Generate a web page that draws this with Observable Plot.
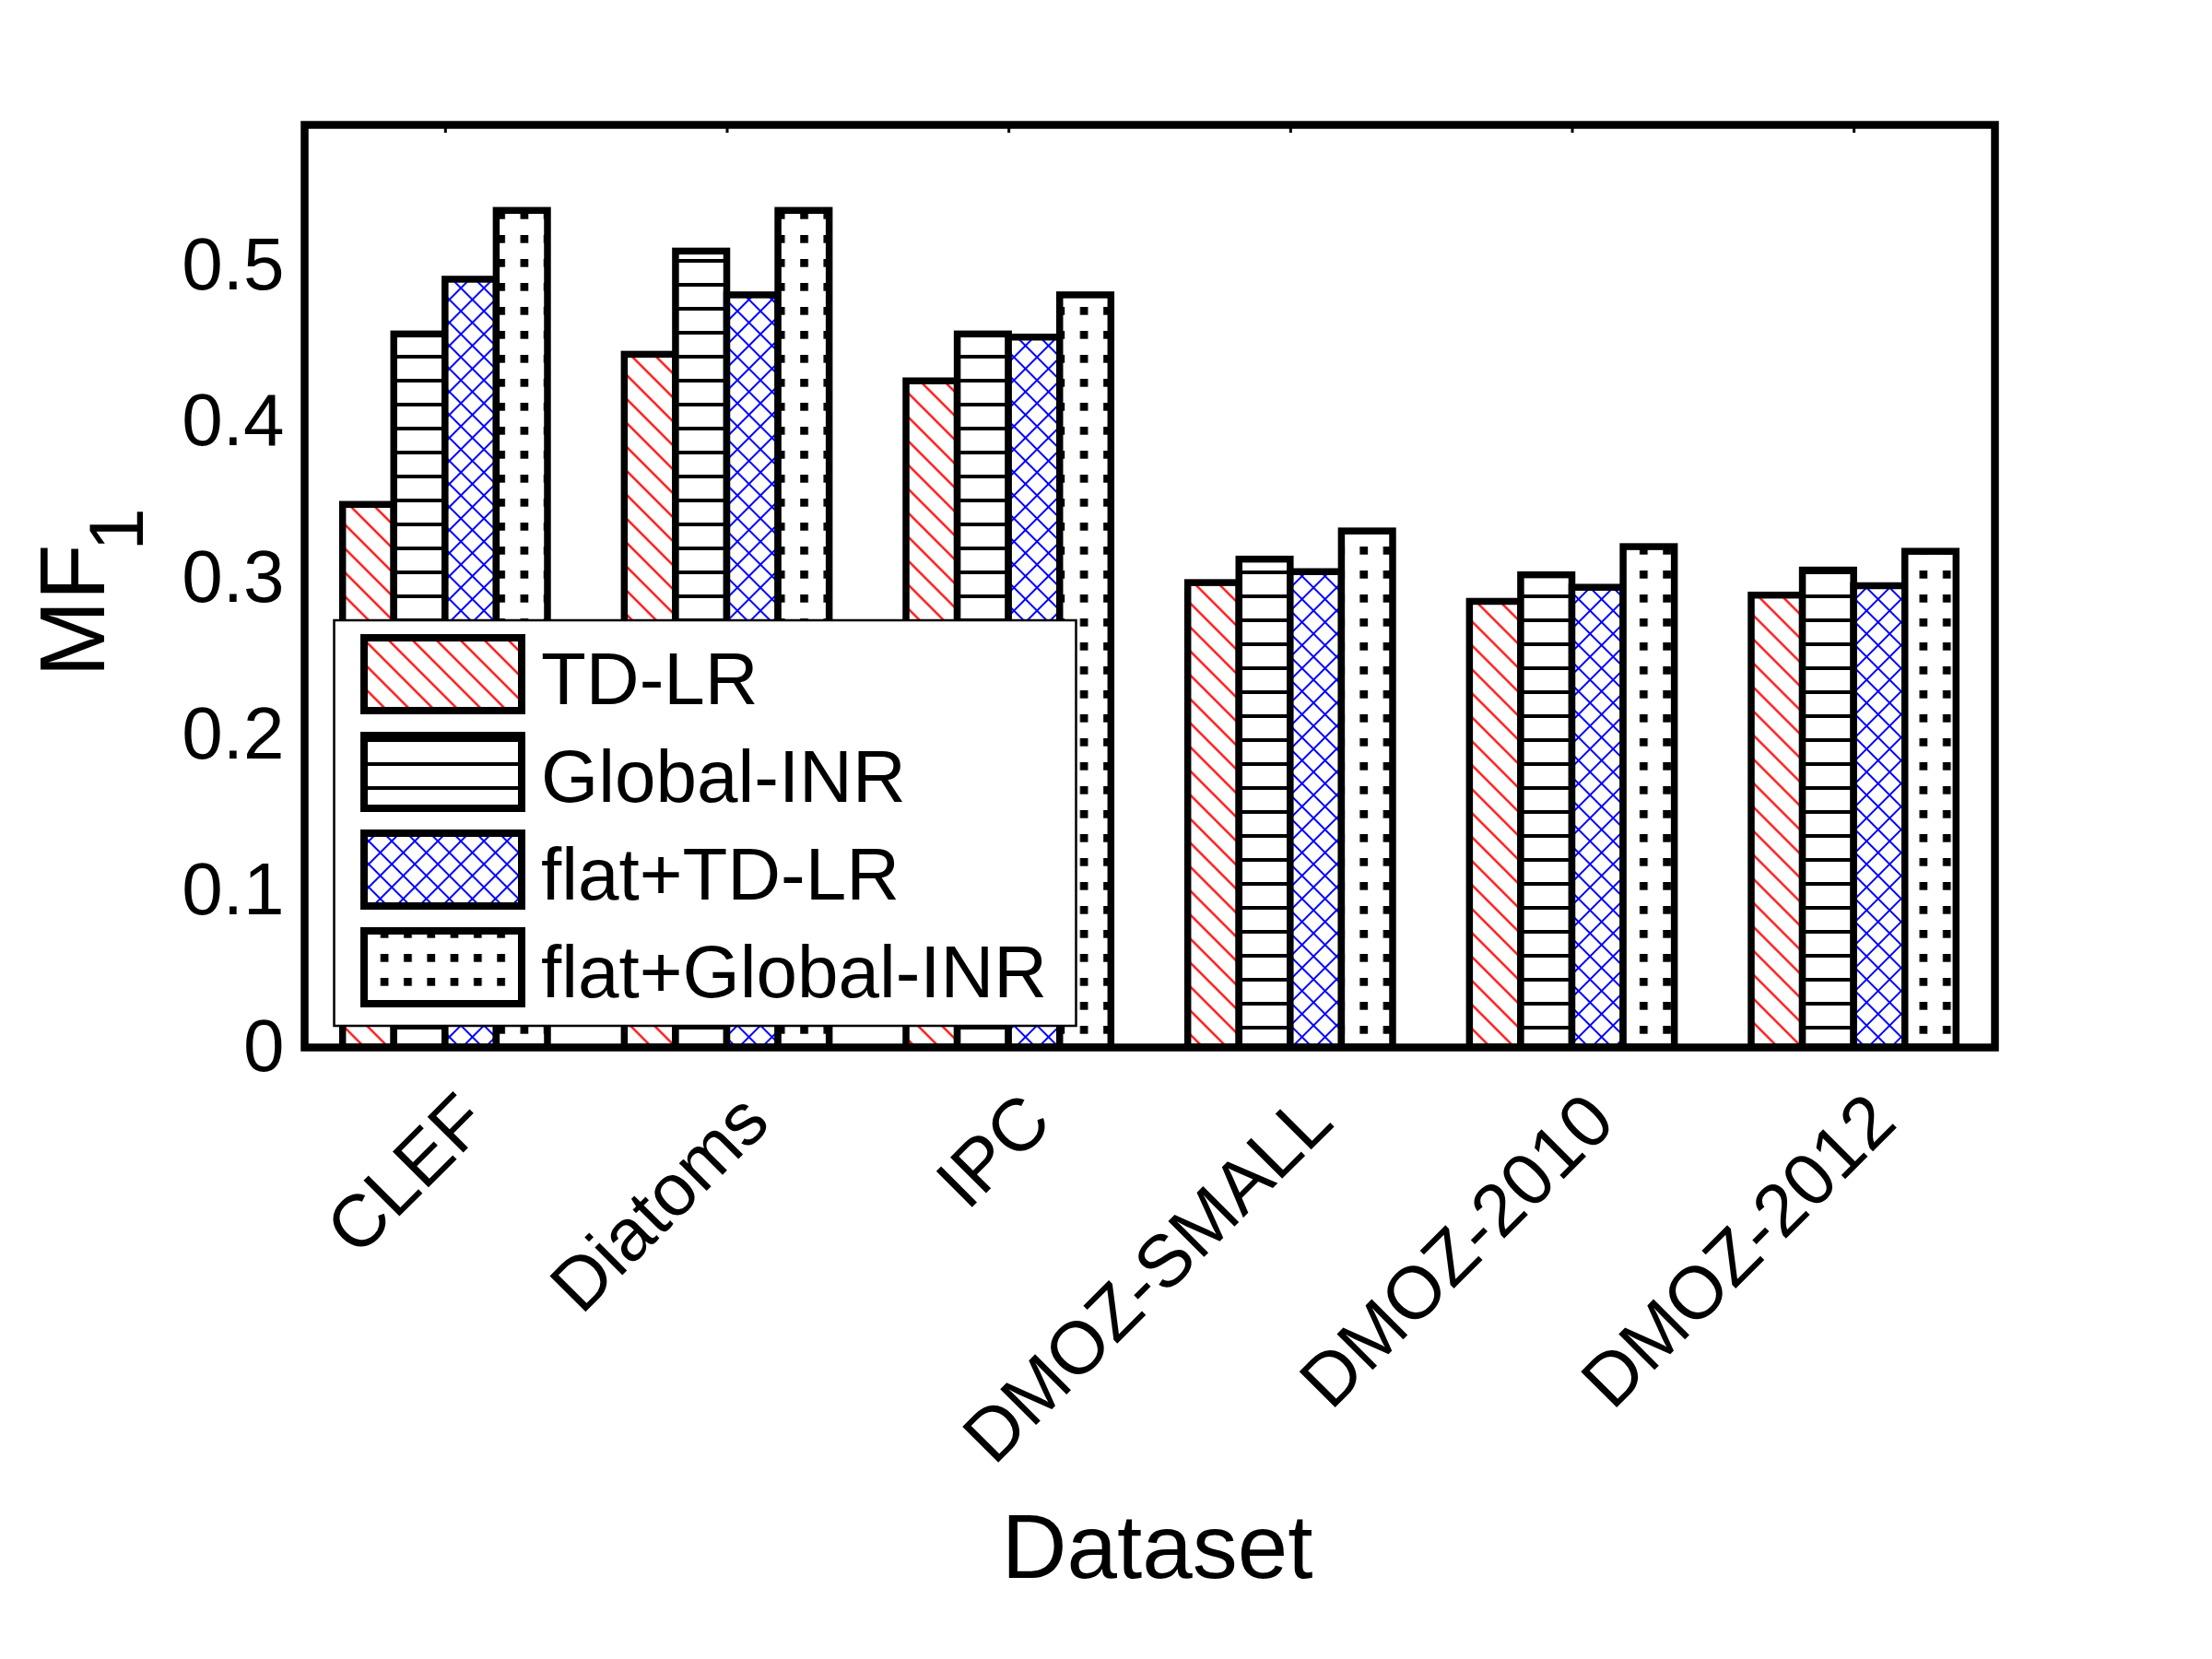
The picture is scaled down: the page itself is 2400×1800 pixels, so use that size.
<!DOCTYPE html>
<html>
<head>
<meta charset="utf-8">
<script src="https://cdn.jsdelivr.net/npm/d3@7"></script>
<script src="https://cdn.jsdelivr.net/npm/@observablehq/plot@0.6"></script>
<style>
  html, body { margin: 0; padding: 0; background: #fff; }
  #chart svg { display: block; }
</style>
</head>
<body>
<div id="chart"></div>
<script>
// Datasets on the x axis and the four compared methods
const datasets = ["CLEF", "Diatoms", "IPC", "DMOZ-SMALL", "DMOZ-2010", "DMOZ-2012"];
const methods = ["TD-LR", "Global-INR", "flat+TD-LR", "flat+Global-INR"];

// MF1 per dataset, one array per method
const tdLR          = [0.347, 0.443, 0.426, 0.297, 0.285, 0.289];
const globalINR     = [0.456, 0.509, 0.456, 0.312, 0.302, 0.305];
const flatTdLR      = [0.491, 0.481, 0.454, 0.304, 0.294, 0.295];
const flatGlobalINR = [0.535, 0.535, 0.481, 0.330, 0.320, 0.317];

const yTicks = [0, 0.1, 0.2, 0.3, 0.4, 0.5];
const xTicks = [1, 2, 3, 4, 5, 6];

const series = [tdLR, globalINR, flatTdLR, flatGlobalINR];
const fills = ["url(#pat-diag)", "url(#pat-hlines)", "url(#pat-cross)", "url(#pat-dots)"];

// Grouped bar layout: groups centred on 1..n, bars touching inside each group
const groupWidth = Math.min(0.8, methods.length / (methods.length + 1.5));
const barWidth = groupWidth / methods.length;
const rows = datasets.flatMap((name, i) =>
  series.map((vals, j) => ({
    dataset: name,
    method: methods[j],
    series: j,
    value: vals[i],
    x1: i + 1 - groupWidth / 2 + j * barWidth,
    x2: i + 1 - groupWidth / 2 + (j + 1) * barWidth
  }))
);

const font = "'Liberation Sans', Arial, Helvetica, sans-serif";

const chart = Plot.plot({
  width: 2400,
  height: 1800,
  marginLeft: 330,
  marginRight: 236,
  marginTop: 135,
  marginBottom: 664,
  style: {fontFamily: font, background: "white", color: "black", overflow: "visible"},
  x: {domain: [0.5, 6.5], label: null},
  y: {domain: [0, 0.59], label: null},
  marks: [
    ...series.map((_, j) =>
      Plot.rect(rows.filter((d) => d.series === j), {
        x1: "x1",
        x2: "x2",
        y1: 0,
        y2: "value",
        fill: fills[j],
        stroke: "black",
        strokeWidth: 7.5
      })
    ),
    Plot.frame({stroke: "black", strokeWidth: 8.5}),
    Plot.axisY({ticks: yTicks, tickSize: 0, tickPadding: 22, fontSize: 80, tickFormat: (d) => String(d)}),
    Plot.axisX({
      ticks: xTicks,
      tickFormat: (i) => datasets[i - 1],
      tickRotate: -45,
      tickSize: 0,
      tickPadding: 66,
      dx: 31,
      fontSize: 80
    }),
    Plot.axisX({anchor: "top", ticks: xTicks, tickSize: -8, strokeWidth: 3, tickFormat: () => ""}),
    Plot.text(["Dataset"], {text: (d) => d, frameAnchor: "bottom", dx: 8, dy: 544, fontSize: 98, lineAnchor: "middle"}),
    Plot.text(["MF"], {text: (d) => d, frameAnchor: "left", textAnchor: "middle", rotate: -90, dx: -250, dy: 26.5, fontSize: 100, lineAnchor: "middle"}),
    Plot.text(["1"], {text: (d) => d, frameAnchor: "left", textAnchor: "middle", rotate: -90, dx: -202, dy: -61.5, fontSize: 84, lineAnchor: "middle"})
  ]
});

document.getElementById("chart").appendChild(chart);

// Fill patterns for the four methods
const svg = d3.select(chart);
const defs = svg.insert("defs", ":first-child");

const diag = defs.append("pattern")
  .attr("id", "pat-diag").attr("patternUnits", "userSpaceOnUse")
  .attr("width", 30).attr("height", 18.38).attr("patternTransform", "rotate(45)");
diag.append("rect").attr("width", 30).attr("height", 18.38).attr("fill", "white");
diag.append("line").attr("x1", 0).attr("x2", 30).attr("y1", 9.19).attr("y2", 9.19)
  .attr("stroke", "#ff0000").attr("stroke-width", 2.2);

const hl = defs.append("pattern")
  .attr("id", "pat-hlines").attr("patternUnits", "userSpaceOnUse")
  .attr("y", 21).attr("width", 20).attr("height", 26);
hl.append("rect").attr("width", 20).attr("height", 26).attr("fill", "white");
hl.append("rect").attr("width", 20).attr("height", 4).attr("fill", "black");

const cross = defs.append("pattern")
  .attr("id", "pat-cross").attr("patternUnits", "userSpaceOnUse")
  .attr("width", 17.68).attr("height", 17.68).attr("patternTransform", "rotate(45)");
cross.append("rect").attr("width", 17.68).attr("height", 17.68).attr("fill", "white");
cross.append("line").attr("x1", 0).attr("x2", 17.68).attr("y1", 8.84).attr("y2", 8.84)
  .attr("stroke", "#0000ff").attr("stroke-width", 2);
cross.append("line").attr("y1", 0).attr("y2", 17.68).attr("x1", 8.84).attr("x2", 8.84)
  .attr("stroke", "#0000ff").attr("stroke-width", 2);

const dots = defs.append("pattern")
  .attr("id", "pat-dots").attr("patternUnits", "userSpaceOnUse")
  .attr("y", 21).attr("width", 25.3).attr("height", 26);
dots.append("rect").attr("width", 25.3).attr("height", 26).attr("fill", "white");
dots.append("rect").attr("x", 8).attr("y", 0).attr("width", 8.7).attr("height", 8.7).attr("fill", "black");

// Legend box inside the axes
const legend = svg.append("g")
  .attr("font-family", font).attr("font-size", 80)
  .attr("fill", "black").attr("text-anchor", "start");
legend.append("rect")
  .attr("x", 362.5).attr("y", 673).attr("width", 805).attr("height", 440)
  .attr("fill", "white").attr("stroke", "black").attr("stroke-width", 2.5);
methods.forEach((m, j) => {
  legend.append("rect")
    .attr("x", 395).attr("y", 692 + 106 * j).attr("width", 171).attr("height", 79)
    .attr("fill", fills[j]).attr("stroke", "black").attr("stroke-width", 8);
  legend.append("text").attr("x", 587).attr("y", 764 + 106 * j).text(m);
});
</script>
</body>
</html>
